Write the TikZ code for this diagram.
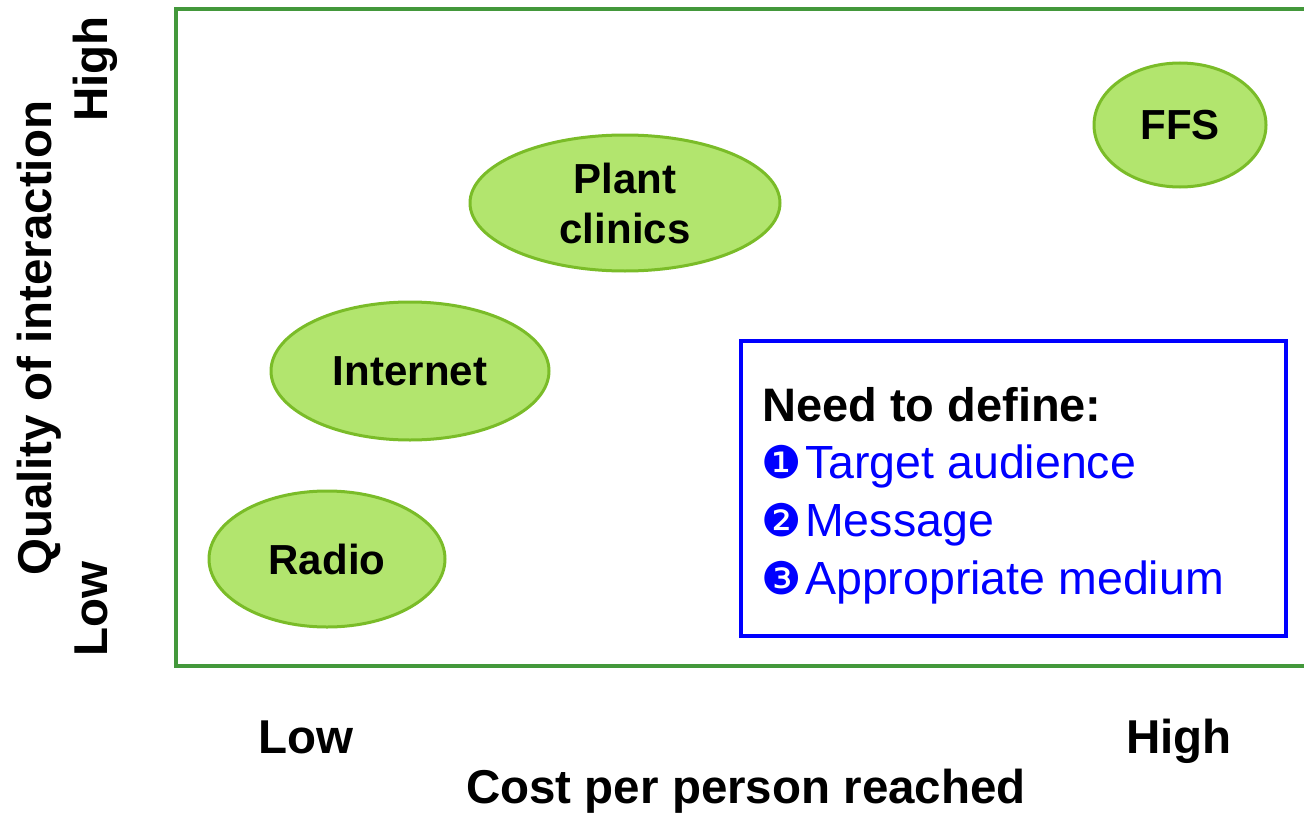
\documentclass[tikz,border=0pt]{standalone}
\usepackage{fontspec}
\setmainfont{Liberation Sans}
\newfontfamily\dejavu{DejaVu Sans}
\usetikzlibrary{shapes.geometric}
\definecolor{framegreen}{RGB}{67,152,59}
\definecolor{ellfill}{RGB}{178,229,110}
\definecolor{elldraw}{RGB}{122,188,40}
\definecolor{boxblue}{RGB}{0,0,255}
\tikzset{
  blob/.style={ellipse, draw=elldraw, fill=ellfill, line width=3pt, inner sep=0pt,
    font=\fontsize{42}{50}\selectfont\bfseries, align=center},
  axislabel/.style={font=\fontsize{47.5}{56}\selectfont\bfseries, inner sep=0pt},
  boxtext/.style={anchor=base west, inner sep=0pt, font=\fontsize{46.5}{56}\selectfont}
}
\newcommand{\bulletnum}[1]{\makebox[43pt][l]{\hspace{-1pt}\fontsize{45}{45}\selectfont\dejavu #1}}
\begin{document}
\begin{tikzpicture}[x=1pt,y=-1pt]
\useasboundingbox (0,0) rectangle (1304,816);
% frame
\coordinate (ftr) at (1304,9.5);
\coordinate (ftl) at (176,9.5);
\coordinate (fbl) at (176,666);
\coordinate (fbr) at (1304,666);
\draw[framegreen, line width=4pt] (ftr) -- (ftl) -- (fbl) -- (fbr);
% ellipses
\node[blob, minimum width=172pt, minimum height=124pt] (ffs) at (1180,125) {FFS};
\node[blob, minimum width=310pt, minimum height=136pt] (plant) at (625,203) {Plant\\clinics};
\node[blob, minimum width=278pt, minimum height=138pt] (internet) at (410,371) {Internet};
\node[blob, minimum width=236pt, minimum height=136pt] (radio) at (327,559) {Radio};
% box
\node[draw=boxblue, line width=4pt, minimum width=545pt, minimum height=295pt, inner sep=0pt] (box) at (1013.5,488.5) {};
\node[boxtext, font=\fontsize{47}{56}\selectfont\bfseries] (need) at (762,421) {Need to define:};
\node[boxtext, text=boxblue] (l1) at (762,478) {\bulletnum{❶}Target audience};
\node[boxtext, text=boxblue] (l2) at (762,536) {\bulletnum{❷}Message};
\node[boxtext, text=boxblue] (l3) at (762,594) {\bulletnum{❸}Appropriate medium};
% axes labels
\node[axislabel, anchor=base] (xlow) at (306,753) {Low};
\node[axislabel, anchor=base] (xhigh) at (1179,753) {High};
\node[axislabel, anchor=base] (xtitle) at (746,803) {Cost per person reached};
\node[axislabel, rotate=90, anchor=base west] (ytitle) at (51,576) {Quality of interaction};
\node[axislabel, rotate=90, anchor=base west] (yhigh) at (107,122) {High};
\node[axislabel, rotate=90, anchor=base west] (ylow) at (107,657) {Low};
\end{tikzpicture}
\end{document}
